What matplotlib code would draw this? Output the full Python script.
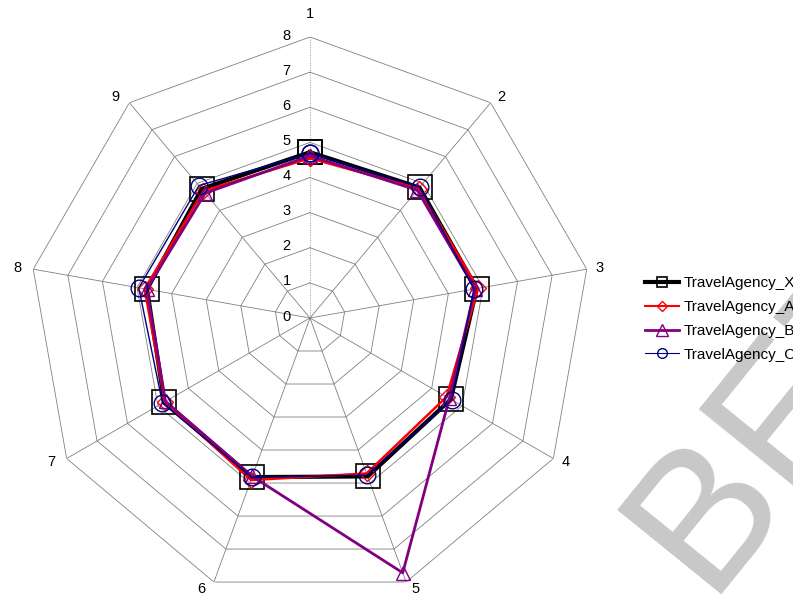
import numpy as np
import matplotlib
matplotlib.use("Agg")
import matplotlib.pyplot as plt
from matplotlib.lines import Line2D

plt.rcParams['font.family'] = ['Liberation Sans', 'DejaVu Sans']

# spokes 1..9, clockwise from the top
categories = ['1', '2', '3', '4', '5', '6', '7', '8', '9']
ring_values = [0, 1, 2, 3, 4, 5, 6, 7, 8]

series_names = ['TravelAgency_X', 'TravelAgency_A', 'TravelAgency_B', 'TravelAgency_C']
agency_x = [4.72, 4.85, 4.82, 4.63, 4.80, 4.82, 4.79, 4.71, 4.80]
agency_a = [4.55, 4.81, 4.86, 4.49, 4.71, 4.91, 4.77, 4.78, 4.72]
agency_b = [4.62, 4.75, 4.77, 4.58, 7.72, 4.80, 4.75, 4.72, 4.64]
agency_c = [4.69, 4.86, 4.74, 4.66, 4.76, 4.83, 4.85, 4.95, 4.92]

W, H = 793, 596
PX = 0.72  # points per pixel at 100 dpi
fig = plt.figure(figsize=(W / 100, H / 100), dpi=100)
fig.patch.set_facecolor('white')

# watermark
fig.text(706 / W, 2 / H, 'BETA', fontsize=140, color='#c8c8c8', rotation=51,
         rotation_mode='anchor', ha='left', va='baseline', zorder=0)

cx, cy, rad = 310, 318, 281
ax = fig.add_axes([(cx - rad) / W, (H - cy - rad) / H, 2 * rad / W, 2 * rad / H],
                  projection='polar')
ax.patch.set_alpha(0)
ax.set_theta_zero_location('N')
ax.set_theta_direction(-1)
ax.set_ylim(0, 8)
ax.grid(False)
ax.spines['polar'].set_visible(False)
ax.set_xticks([])
ax.set_yticks([])

n = len(categories)
theta = np.arange(n) * 2 * np.pi / n
theta_c = np.append(theta, theta[0])

# polygon grid
for r in ring_values[1:]:
    ax.plot(theta_c, [r] * (n + 1), color='#808080', lw=0.6, zorder=1)
for i, t in enumerate(theta):
    ls = (0, (1.5, 1.5)) if i == 0 else '-'
    col = '#a0a0a0' if i == 0 else '#808080'
    ax.plot([t, t], [0, ring_values[-1]], color=col, lw=0.6, ls=ls, zorder=1)

# ring value labels along the top spoke
for r in ring_values:
    ax.annotate(str(r), xy=(0, r), xytext=(-14, 1), textcoords='offset points',
                ha='right', va='center', fontsize=10.5, annotation_clip=False)

# spoke labels
for i, t in enumerate(theta):
    s, c = np.sin(t), np.cos(t)
    if i == 0:
        ha, dx, dy = 'center', 0, 23
    elif s > 0:
        ha, dx, dy = 'left', 3 + 6 * abs(s), 7 * c
    else:
        ha, dx, dy = 'right', -(6 + 6 * abs(s)), 7 * c
    ax.annotate(categories[i], xy=(t, ring_values[-1]),
                xytext=(dx * PX, dy * PX), textcoords='offset points',
                ha=ha, va='center', fontsize=10.5, annotation_clip=False)

styles = [
    dict(color='black', lw=3.0, marker='s', ms=17.5, mew=1.2, mfc='none'),
    dict(color='#ff0000', lw=1.8, marker='D', ms=8, mew=1.0, mfc='none'),
    dict(color='#800080', lw=2.0, marker='^', ms=10, mew=1.0, mfc='none'),
    dict(color='#000080', lw=1.0, marker='o', ms=12, mew=1.0, mfc='none'),
]
data = [agency_x, agency_a, agency_b, agency_c]
for vals, st in zip(data, styles):
    v = np.append(vals, vals[0])
    ax.plot(theta_c, v, zorder=3, clip_on=False, **st)

leg_styles = [
    dict(color='black', lw=3.0, marker='s', ms=7, mew=1.2, mfc='none'),
    dict(color='#ff0000', lw=1.5, marker='D', ms=5, mew=1.0, mfc='none'),
    dict(color='#800080', lw=2.0, marker='^', ms=8, mew=1.0, mfc='none'),
    dict(color='#000080', lw=0.8, marker='o', ms=7, mew=1.0, mfc='none'),
]
handles = [Line2D([], [], **st) for st in leg_styles]
fig.legend(handles, series_names, loc='upper left',
           bbox_to_anchor=(645 / W, 1 - 276 / H), frameon=False, fontsize=11,
           borderpad=0, borderaxespad=0, handlelength=2.2, handletextpad=0.35,
           labelspacing=0.65)

fig.savefig('out.png', dpi=100)
